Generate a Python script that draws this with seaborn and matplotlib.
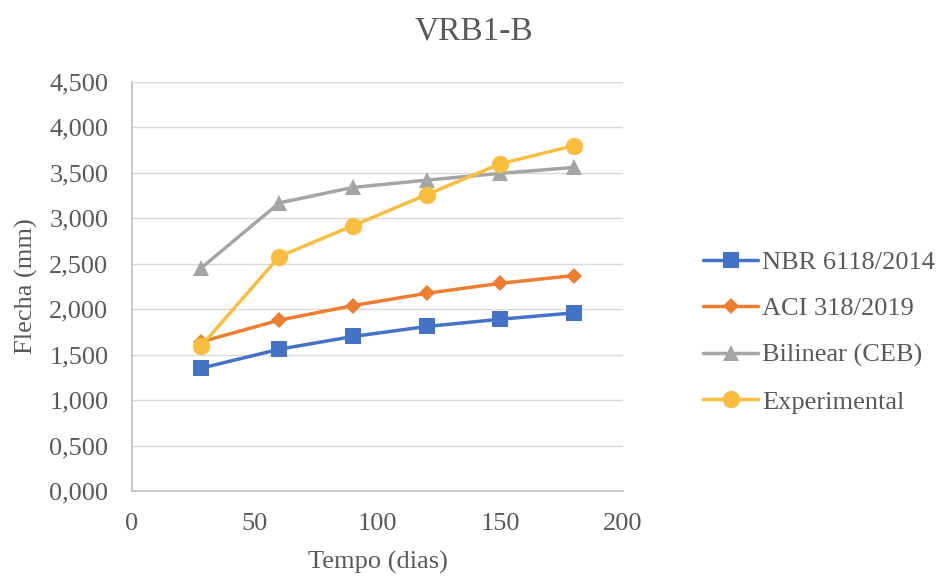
import matplotlib
matplotlib.use("Agg")
import matplotlib.pyplot as plt
import seaborn as sns
import pandas as pd
from matplotlib.ticker import FuncFormatter, MultipleLocator

# ---- data ----
tempo = [28, 60, 90, 120, 150, 180]
nbr = [1.35, 1.56, 1.70, 1.81, 1.89, 1.96]
aci = [1.64, 1.88, 2.04, 2.175, 2.285, 2.37]
bilinear = [2.45, 3.17, 3.34, 3.42, 3.495, 3.56]
experimental = [1.59, 2.58, 2.92, 3.26, 3.60, 3.80]
series_names = ["NBR 6118/2014", "ACI 318/2019", "Bilinear (CEB)", "Experimental"]
title = "VRB1-B"
xlabel = "Tempo (dias)"
ylabel = "Flecha (mm)"

sns.set_theme(style="white")
plt.rcParams['font.family'] = ['Liberation Serif', 'DejaVu Serif']
txt = "#595959"

fig = plt.figure(figsize=(9.47, 5.77), dpi=100)
ax = fig.add_axes([132/947, 1-491/577, (623-132)/947, (491-82)/577])

styles = [
    (nbr, "#4472C4", "s", 11),
    (aci, "#ED7D31", "D", 8.3),
    (bilinear, "#A5A5A5", "^", 11.5),
    (experimental, "#F9BE3F", "o", 12.5),
]
for name, (vals, col, mk, ms) in zip(series_names, styles):
    df = pd.DataFrame({"x": tempo, "y": vals})
    sns.lineplot(data=df, x="x", y="y", ax=ax, color=col, marker=mk,
                 markersize=ms, markeredgewidth=0, linewidth=2.5,
                 label=name, zorder=3)

ax.set_xlim(0, 200)
ax.set_ylim(0, 4.5)
ax.xaxis.set_major_locator(MultipleLocator(50))
ax.yaxis.set_major_locator(MultipleLocator(0.5))
ax.yaxis.set_major_formatter(FuncFormatter(lambda v, p: f"{v:.3f}".replace('.', ',')))
ax.grid(axis='y', color="#D9D9D9", linewidth=1.0)
ax.grid(axis='x', visible=False)
for s in ["top", "right"]:
    ax.spines[s].set_visible(False)
for s in ["left", "bottom"]:
    ax.spines[s].set_color("#BFBFBF")
    ax.spines[s].set_linewidth(1.2)
ax.tick_params(axis='both', length=0, labelsize=19, colors=txt)
ax.tick_params(axis='y', pad=17)
ax.tick_params(axis='x', pad=16)
ax.set_xlabel(xlabel, fontsize=19, color=txt, labelpad=11)
ax.set_ylabel(ylabel, fontsize=19, color=txt, labelpad=8)

ax.get_legend().remove()
handles, labels = ax.get_legend_handles_labels()
fig.legend(handles, labels, loc="center left", bbox_to_anchor=(703/947, 1-332/577),
           frameon=False, fontsize=19, labelcolor=txt, handlelength=2.1,
           handletextpad=0.15, labelspacing=0.87, borderpad=0, borderaxespad=0)

fig.text(0.5, 1-39/577, title, ha="center", va="baseline", fontsize=24, color=txt)

fig.savefig("out.png", dpi=100)
